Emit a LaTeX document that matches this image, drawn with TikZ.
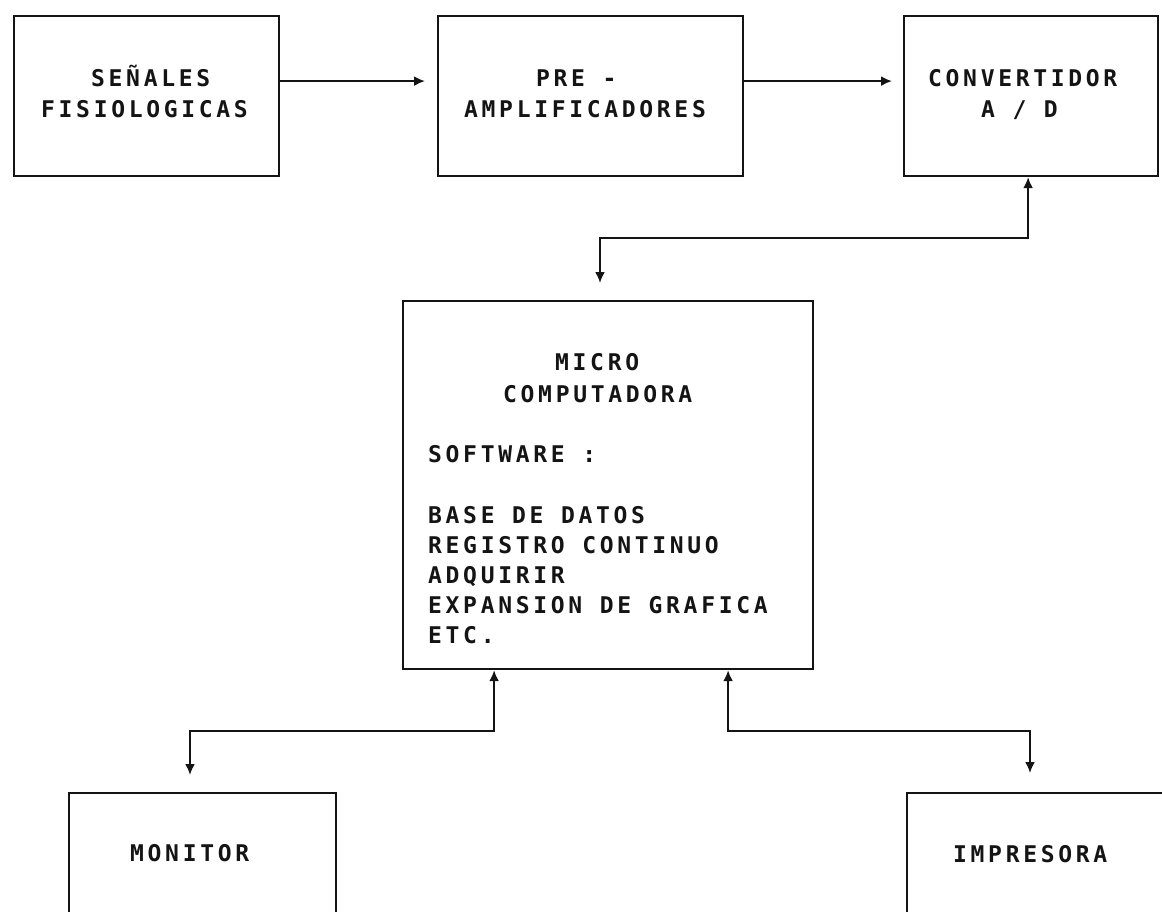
\documentclass[tikz,border=0pt]{standalone}
\usepackage{fontspec}
\newfontfamily\dm[LetterSpace=16]{DejaVu Sans Mono}
\usetikzlibrary{arrows.meta}
\definecolor{ink}{gray}{0.08}
\tikzset{
  box/.style={draw=ink, line width=2.2pt, rectangle, inner sep=0pt, anchor=north west},
  txt/.style={font=\fontsize{23}{30}\dm\bfseries, text=ink, inner sep=0pt, anchor=base west},
  conn/.style={draw=ink, line width=2pt, arrows={Latex[length=11pt,width=10pt]-Latex[length=11pt,width=10pt]}},
  oneway/.style={draw=ink, line width=2pt, -{Latex[length=11pt,width=10pt]}}
}
\begin{document}
\begin{tikzpicture}[x=1pt,y=-1pt]
\useasboundingbox[fill=white] (0,0) rectangle (1162,912);
% boxes
\node[box, minimum width=265pt, minimum height=160pt] (sen) at (13,15) {};
\node[box, minimum width=305pt, minimum height=160pt] (pre) at (437,15) {};
\node[box, minimum width=254pt, minimum height=160pt] (conv) at (903,15) {};
\node[box, minimum width=410pt, minimum height=368pt] (micro) at (402,300) {};
\node[box, minimum width=267pt, minimum height=220pt] (mon) at (68,792) {};
\node[box, minimum width=300pt, minimum height=220pt] (imp) at (906,792) {};
% texts
\node[txt] (t1) at (91,87) {SEÑALES};
\node[txt] (t2) at (41,118) {FISIOLOGICAS};
\node[txt] (t3) at (536,87) {PRE -};
\node[txt] (t4) at (464,118) {AMPLIFICADORES};
\node[txt] (t5) at (928,87) {CONVERTIDOR};
\node[txt] (t6) at (981,118) {A / D};
\node[txt] (t7) at (555,370) {MICRO};
\node[txt] (t8) at (503,402) {COMPUTADORA};
\node[txt] (t9) at (428,462) {SOFTWARE :};
\node[txt] (t10) at (428,523) {BASE DE DATOS};
\node[txt] (t11) at (428,553) {REGISTRO CONTINUO};
\node[txt] (t12) at (428,583) {ADQUIRIR};
\node[txt] (t13) at (428,613) {EXPANSION DE GRAFICA};
\node[txt] (t14) at (428,643) {ETC.};
\node[txt] (t15) at (130,861) {MONITOR};
\node[txt] (t16) at (953,862) {IMPRESORA};
% elbow coordinates
\coordinate (j1) at (600,238);
\coordinate (j2) at (190,731);
\coordinate (j3) at (1030,731);
% connectors
\draw[oneway, shorten >=12pt] ([yshift=15pt]sen.east) -- ([yshift=15pt]pre.west);
\draw[oneway, shorten >=11pt] ([yshift=15pt]pre.east) -- ([yshift=15pt]conv.west);
\draw[conn, shorten >=17pt] ([xshift=-3pt]conv.south) |- (j1) -- (j1 |- micro.north);
\draw[conn, shorten >=17pt] ([xshift=-114pt]micro.south) |- (j2) -- (j2 |- mon.north);
\draw[conn, shorten >=19pt] ([xshift=120pt]micro.south) |- (j3) -- (j3 |- imp.north);
\end{tikzpicture}
\end{document}
